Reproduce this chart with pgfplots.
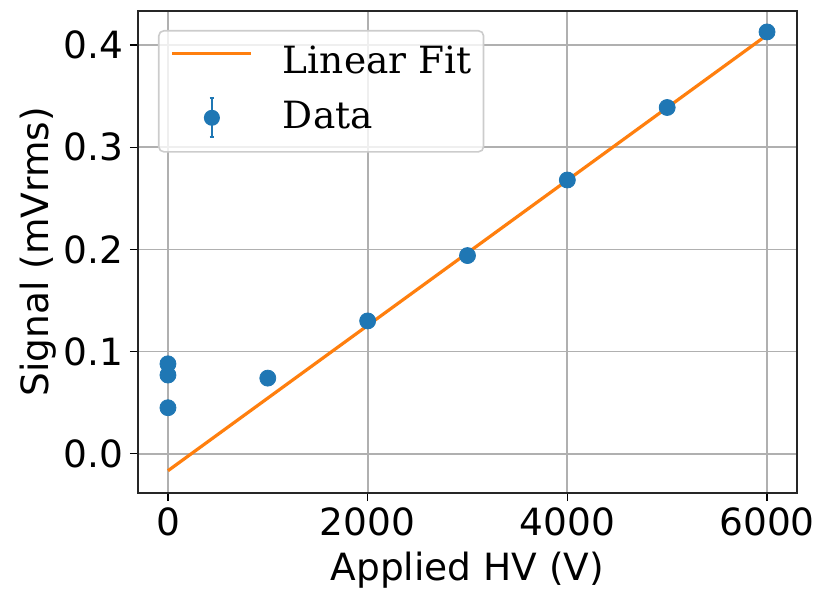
\documentclass[border=0pt]{standalone}
\usepackage{fontspec}
\setmainfont{DejaVu Sans}
\newfontfamily\legendfont{DejaVu Serif}
\usepackage{pgfplots}
\pgfplotsset{compat=1.18}
\definecolor{c0}{HTML}{1F77B4}
\definecolor{c1}{HTML}{FF7F0E}
\definecolor{gridc}{HTML}{B0B0B0}
\definecolor{legedge}{HTML}{CCCCCC}

\begin{document}
\begin{tikzpicture}
\useasboundingbox (-69pt,-48pt) rectangle (346pt,246.5pt);
\begin{axis}[
  at={(0,0)}, anchor=south west,
  scale only axis, width=329.5pt, height=241pt,
  xmin=-300, xmax=6300, ymin=-0.0385, ymax=0.4335,
  xtick={0,2000,4000,6000},
  ytick={0,0.1,0.2,0.3,0.4},
  scaled x ticks=false, scaled y ticks=false,
  xticklabel style={/pgf/number format/1000 sep={}},
  yticklabel style={/pgf/number format/.cd, fixed, fixed zerofill, precision=1},
  /pgf/number format/assume math mode=true,
  tick label style={font=\fontsize{18.75}{22}\selectfont},
  label style={font=\fontsize{18.75}{22}\selectfont},
  tick align=outside, tick pos=left,
  major tick length=4pt,
  every tick/.style={black, line width=0.8pt},
  axis line style={line width=0.9pt, black!85},
  grid=major,
  major grid style={gridc, line width=0.9pt},
  xlabel={Applied HV (V)},
  ylabel={Signal (mVrms)},
  xlabel shift=1pt,
  ylabel shift=-3.5pt,
  legend cell align=left,
  legend style={
    at={(rel axis cs:0,1)}, anchor=north west, xshift=10pt, yshift=-9.5pt,
    draw=legedge, line width=0.8pt, fill=white, fill opacity=0.8, text opacity=1,
    rounded corners=2.5pt,
    inner xsep=6pt, inner ysep=7.5pt,
    font=\legendfont\fontsize{18.75}{22}\selectfont,
    column sep=0pt, row sep=8.5pt,
    nodes={inner sep=0pt, text height=14pt, text depth=4pt},
    /tikz/every odd column/.style={column sep=15pt},
  },
]
% least-squares line through the data
\addplot[c1, line width=1.6pt,
  legend image code/.code={\draw[c1, line width=1.6pt, opacity=1] (0pt,5pt) -- (39.5pt,5pt);}]
  coordinates {(0,-0.0167) (6000,0.4100)};
\addlegendentry{Linear Fit}
% measured signal, with an error-bar symbol in the key
\addplot[only marks, mark=*, mark size=4pt, color=c0, mark options={draw=c0, fill=c0},
  legend image code/.code={
    \begin{scope}[opacity=1, fill opacity=1, draw opacity=1]
    \path[draw=none, fill=none] (0pt,-4pt) rectangle (39.5pt,10pt);
    \begin{scope}[overlay]
    \draw[c0, line width=1.2pt, rounded corners=0pt] (19.75pt,-9.25pt) -- (19.75pt,10.25pt);
    \draw[c0, line width=1.2pt, rounded corners=0pt] (18.6pt,-9.25pt) -- (20.9pt,-9.25pt);
    \draw[c0, line width=1.2pt, rounded corners=0pt] (18.6pt,10.25pt) -- (20.9pt,10.25pt);
    \fill[c0] (19.75pt,0.5pt) circle (3.6pt);
    \end{scope}
    \end{scope}}]
  coordinates {
    (0,0.088) (0,0.077) (0,0.045)
    (1000,0.074) (2000,0.130) (3000,0.194)
    (4000,0.268) (5000,0.339) (6000,0.413)
  };
\addlegendentry{Data}
\end{axis}
\end{tikzpicture}
\end{document}
